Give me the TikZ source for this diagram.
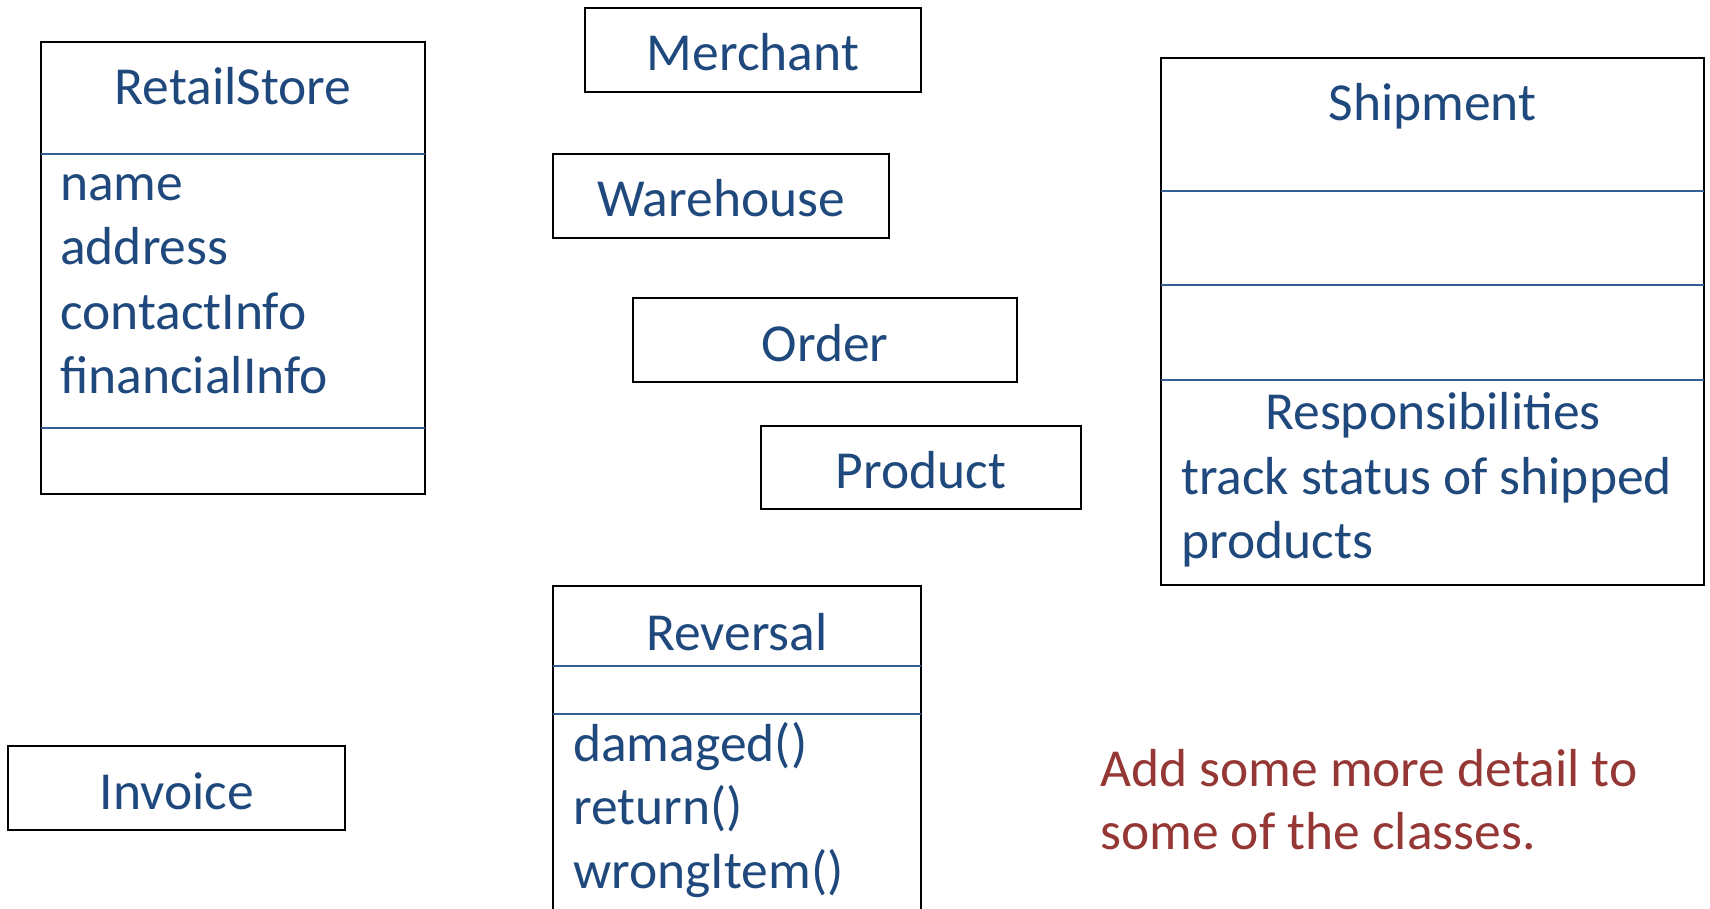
\documentclass[tikz,border=0pt]{standalone}
\usepackage{fontspec}
\setmainfont{Carlito}
\definecolor{txtblue}{HTML}{1F497D}
\definecolor{ruleblue}{HTML}{365F91}
\definecolor{notered}{HTML}{953735}
\begin{document}
\begin{tikzpicture}[x=1pt,y=-1pt,
  classbox/.style={draw=black,line width=2.3pt,inner sep=0pt,fill=none},
  divider/.style={draw=ruleblue,line width=1.6pt},
  lbl/.style={inner sep=0pt,text=txtblue,font=\fontsize{53.5}{64}\selectfont},
  ctr/.style={lbl,anchor=base},
  lft/.style={lbl,anchor=base west},
  note/.style={inner sep=0pt,anchor=base west,text=notered,font=\fontsize{53.5}{64}\selectfont}]
\useasboundingbox (0,0) rectangle (1710,909);
\clip (0,0) rectangle (1710,909);

% RetailStore class
\node[classbox,minimum width=384pt,minimum height=452pt] (store) at (233,268) {};
\draw[divider] (41,154) coordinate (s1a) -- (425,154) coordinate (s1b);
\draw[divider] (41,428) coordinate (s2a) -- (425,428) coordinate (s2b);
\node[ctr] (storeT) at (233,105) {RetailStore};
\node[lft] (storeA1) at (60,201) {name};
\node[lft] (storeA2) at (60,265) {address};
\node[lft] (storeA3) at (60,329) {contactInfo};
\node[lft] (storeA4) at (60,393) {financialInfo};

% simple classes
\node[classbox,minimum width=336pt,minimum height=84pt] (merchant) at (753,50) {};
\node[ctr] (merchantT) at (753,71) {Merchant};
\node[classbox,minimum width=336pt,minimum height=84pt] (warehouse) at (721,196) {};
\node[ctr] (warehouseT) at (721,217) {Warehouse};
\node[classbox,minimum width=384pt,minimum height=84pt] (order) at (825,340) {};
\node[ctr] (orderT) at (825,361) {Order};
\node[classbox,minimum width=320pt,minimum height=83pt] (product) at (921,467.5) {};
\node[ctr] (productT) at (921,488) {Product};
\node[classbox,minimum width=337pt,minimum height=84pt] (invoice) at (176.5,788) {};
\node[ctr] (invoiceT) at (177,809) {Invoice};

% Shipment class
\node[classbox,minimum width=543pt,minimum height=527pt] (ship) at (1432.5,321.5) {};
\draw[divider] (1161,191) -- (1704,191);
\draw[divider] (1161,285) -- (1704,285);
\draw[divider] (1161,380) -- (1704,380);
\node[ctr] (shipT) at (1432.5,121) {Shipment};
\node[ctr] (shipR) at (1433,429) {Responsibilities};
\node[lft] (shipR1) at (1181,494) {track status of shipped};
\node[lft] (shipR2) at (1181,558) {products};

% Reversal class (runs past the lower edge)
\node[classbox,minimum width=368pt,minimum height=400pt] (rev) at (737,786) {};
\draw[divider] (553,666) -- (921,666);
\draw[divider] (553,714) -- (921,714);
\node[ctr] (revT) at (737,650) {Reversal};
\node[lft] (revM1) at (573,761) {damaged()};
\node[lft] (revM2) at (573,824) {return()};
\node[lft] (revM3) at (573,888) {wrongItem()};

% note
\node[note] (note1) at (1100,786) {Add some more detail to};
\node[note] (note2) at (1100,849) {some of the classes.};
\end{tikzpicture}
\end{document}
